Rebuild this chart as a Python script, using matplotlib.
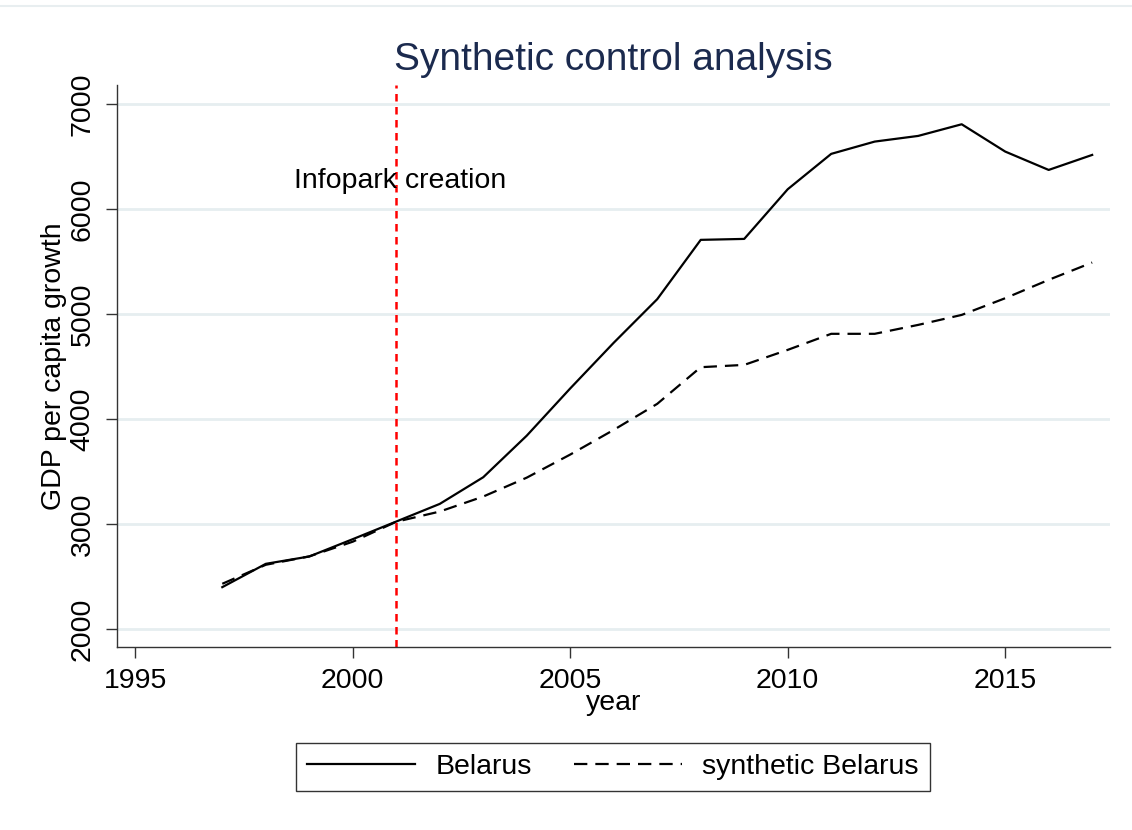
import matplotlib
matplotlib.use("Agg")
import matplotlib.pyplot as plt
from matplotlib.lines import Line2D

plt.rcParams["font.family"] = ["Liberation Sans", "DejaVu Sans"]

# Данные
years = [1997, 1998, 1999, 2000, 2001, 2002, 2003, 2004, 2005, 2006, 2007,
         2008, 2009, 2010, 2011, 2012, 2013, 2014, 2015, 2016, 2017]
belarus = [2397, 2619, 2689, 2854, 3022, 3190, 3444, 3840, 4290, 4725, 5140,
           5705, 5714, 6187, 6524, 6641, 6695, 6806, 6546, 6371, 6514]
synthetic = [2429, 2610, 2690, 2830, 3020, 3117, 3260, 3440, 3660, 3895, 4143,
             4492, 4514, 4657, 4810, 4810, 4895, 4990, 5149, 5324, 5489]
xticks = [1995, 2000, 2005, 2010, 2015]
yticks = [2000, 3000, 4000, 5000, 6000, 7000]
event_year = 2001

fig = plt.figure(figsize=(11.32, 8.30), dpi=100)
ax = fig.add_axes([117.3 / 1132, 1 - 647.3 / 830,
                   (1110 - 117.3) / 1132, (647.3 - 85) / 830])

# Сетка
for yv in yticks:
    ax.axhline(yv, color="#e6eef0", lw=2, zorder=0)

ax.plot(years, belarus, color="black", lw=1.6, label="Belarus")
ax.plot(years, synthetic, color="black", lw=1.6, dashes=(6, 3.6),
        label="synthetic Belarus")

# Вертикальная линия — год создания
ax.axvline(event_year, color="#ff0000", lw=1.8, dashes=(3, 2.2))
ax.text(2001.09, 6265, "Infopark creation", ha="center", va="center",
        fontsize=20.5, color="black")

ax.set_xlim(1994.586, 2017.41)
ax.set_ylim(1824, 7180)
ax.set_xticks(xticks)
ax.set_yticks(yticks)
ax.tick_params(axis="both", direction="out", length=8, width=1,
               color="#333333", labelsize=20.5)
ax.tick_params(axis="x", pad=7)
ax.tick_params(axis="y", labelrotation=90, pad=7.5)
for lab in ax.get_yticklabels():
    lab.set_va("center")

for side in ["top", "right"]:
    ax.spines[side].set_visible(False)
for side in ["left", "bottom"]:
    ax.spines[side].set_color("#333333")
    ax.spines[side].set_linewidth(1)

ax.set_xlabel("year", fontsize=20.5, labelpad=-3)
ax.set_ylabel("GDP per capita growth", fontsize=20.5, labelpad=2)
ax.set_title("Synthetic control analysis", fontsize=28, color="#1b2a4e", pad=11)

# Тонкая линия сверху
fig.add_artist(Line2D([0, 1], [1 - 6 / 830, 1 - 6 / 830],
                      color="#e8eef0", lw=1.5))

leg = fig.legend(loc="center", bbox_to_anchor=(613 / 1132, 1 - 767 / 830),
                 ncol=2, fontsize=20.5, frameon=True, fancybox=False,
                 edgecolor="black", handlelength=3.8, handletextpad=0.7,
                 columnspacing=1.5, borderpad=0.4)
leg.get_frame().set_linewidth(1)

fig.savefig("out.png", dpi=100, facecolor="white")
